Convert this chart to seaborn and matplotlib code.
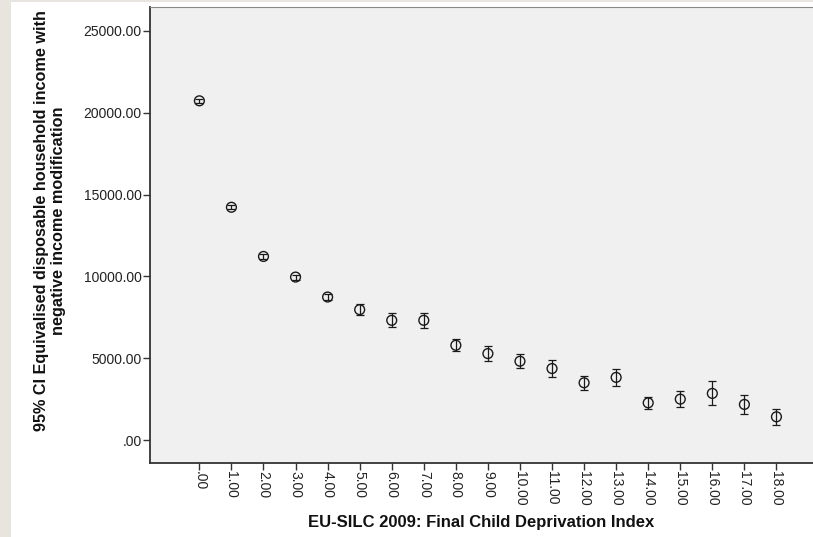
import matplotlib
matplotlib.use("Agg")
import matplotlib.pyplot as plt
import seaborn as sns
import pandas as pd
from matplotlib.patches import Rectangle

# Data
index_values = list(range(19))
tick_labels = [".00"] + [f"{i}.00" for i in range(1, 19)]
mean_income = [20730, 14226, 11220, 9960, 8740, 7967, 7317, 7317, 5793, 5284,
               4817, 4370, 3500, 3830, 2274, 2500, 2850, 2177, 1421]
ci_halfwidth = [110, 120, 130, 150, 200, 355, 427, 457, 356, 478,
                437, 528, 427, 540, 350, 490, 730, 580, 480]
y_ticks = [0, 5000, 10000, 15000, 20000, 25000]
y_tick_labels = [".00", "5000.00", "10000.00", "15000.00", "20000.00", "25000.00"]

df = pd.DataFrame({"idx": index_values, "mean": mean_income, "err": ci_halfwidth})

sns.set_theme(style="white")
plt.rcParams["font.family"] = ["Liberation Sans", "DejaVu Sans"]

W, H = 813, 537
fig = plt.figure(figsize=(W / 100, H / 100), dpi=100)
fig.patch.set_facecolor("white")
# beige frame strips
fig.add_artist(Rectangle((0, 0), 11 / W, 1, transform=fig.transFigure,
                         facecolor="#E8E5DE", edgecolor="none", zorder=0))
fig.add_artist(Rectangle((0, 1 - 2 / H), 1, 2 / H, transform=fig.transFigure,
                         facecolor="#E8E5DE", edgecolor="none", zorder=0))

ax_l, ax_r, ax_t, ax_b = 150, 813, 7, 463
ax = fig.add_axes([ax_l / W, 1 - ax_b / H, (ax_r - ax_l) / W, (ax_b - ax_t) / H])
ax.set_facecolor("#F0F0F0")

ax.errorbar(df["idx"], df["mean"], yerr=df["err"], fmt="none",
            ecolor="#1a1a1a", elinewidth=0.9, capsize=2.6, capthick=0.9, zorder=2)
sns.scatterplot(data=df, x="idx", y="mean", ax=ax, marker="o", s=50,
                facecolor="none", edgecolor="#1a1a1a", linewidth=1.0, zorder=3,
                legend=False)

ax.set_xlim(-1.54, 19.14)
ax.set_ylim(-1402, 26463)
ax.set_xticks(index_values)
ax.set_xticklabels(tick_labels, rotation=270, fontsize=10, color="#222222")
ax.set_yticks(y_ticks)
ax.set_yticklabels(y_tick_labels, fontsize=10, color="#222222")
ax.tick_params(axis="both", direction="out", length=5, width=1, color="#333333",
               bottom=True, left=True, pad=1)

for side in ["left", "bottom"]:
    ax.spines[side].set_color("#333333")
    ax.spines[side].set_linewidth(1.3)
ax.spines["top"].set_color("#888888")
ax.spines["top"].set_linewidth(0.8)
ax.spines["right"].set_visible(False)

ax.set_xlabel("EU-SILC 2009: Final Child Deprivation Index", fontsize=12,
              fontweight="bold", color="#111111", va="center", ha="center")
ax.xaxis.set_label_coords(0.5, (ax_b - 522) / (ax_b - ax_t))
ax.set_ylabel("95% CI Equivalised disposable household income with\nnegative income modification",
              fontsize=11.7, fontweight="bold", color="#111111", linespacing=1.1,
              va="center", ha="center", multialignment="center")
ax.yaxis.set_label_coords((50 - ax_l) / (ax_r - ax_l), (ax_b - 221) / (ax_b - ax_t))

fig.savefig("out.png", dpi=100)
